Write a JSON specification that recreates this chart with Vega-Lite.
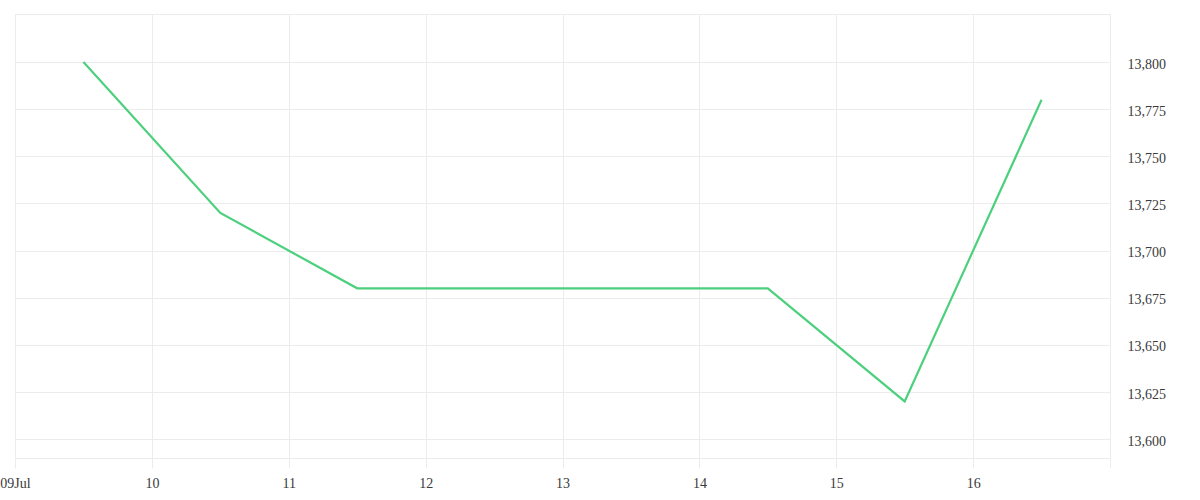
{
  "$schema": "https://vega.github.io/schema/vega-lite/v6.json",
  "autosize": {"type": "none"},
  "width": 1095,
  "height": 444,
  "padding": {"left": 15, "top": 14, "right": 90, "bottom": 42},
  "config": {
    "view": {"stroke": "#ececec", "strokeWidth": 1},
    "font": "Liberation Serif",
    "axis": {
      "labelFont": "Liberation Serif",
      "labelFontSize": 14,
      "labelColor": "#3a3a3a",
      "gridColor": "#ececec",
      "domain": false
    }
  },
  "data": {
    "values": [
      {"date": "2024-07-09T12:00:00Z", "price": 13800},
      {"date": "2024-07-10T12:00:00Z", "price": 13720},
      {"date": "2024-07-11T12:00:00Z", "price": 13680},
      {"date": "2024-07-12T12:00:00Z", "price": 13680},
      {"date": "2024-07-13T12:00:00Z", "price": 13680},
      {"date": "2024-07-14T12:00:00Z", "price": 13680},
      {"date": "2024-07-15T12:00:00Z", "price": 13620},
      {"date": "2024-07-16T12:00:00Z", "price": 13780}
    ]
  },
  "mark": {"type": "line", "color": "#4cd07d", "strokeWidth": 2.2},
  "encoding": {
    "x": {
      "field": "date",
      "type": "temporal",
      "title": null,
      "scale": {
        "type": "utc",
        "domain": [
          {"year": 2024, "month": 7, "date": 9, "utc": true},
          {"year": 2024, "month": 7, "date": 17, "utc": true}
        ]
      },
      "axis": {
        "values": [
          {"year": 2024, "month": 7, "date": 9, "utc": true},
          {"year": 2024, "month": 7, "date": 10, "utc": true},
          {"year": 2024, "month": 7, "date": 11, "utc": true},
          {"year": 2024, "month": 7, "date": 12, "utc": true},
          {"year": 2024, "month": 7, "date": 13, "utc": true},
          {"year": 2024, "month": 7, "date": 14, "utc": true},
          {"year": 2024, "month": 7, "date": 15, "utc": true},
          {"year": 2024, "month": 7, "date": 16, "utc": true},
          {"year": 2024, "month": 7, "date": 17, "utc": true}
        ],
        "labelExpr": "datum.index == 0 ? utcFormat(datum.value, '%dJul') : (datum.index == 1 ? '' : utcFormat(datum.value, '%d'))",
        "tickSize": 10,
        "tickColor": "#ececec",
        "labelPadding": 8,
        "labelAlign": "center",
        "labelFlush": false,
        "labelOverlap": false,
        "labelBound": false
      }
    },
    "y": {
      "field": "price",
      "type": "quantitative",
      "title": null,
      "scale": {"domain": [13590, 13825.5], "zero": false, "nice": false},
      "axis": {
        "orient": "right",
        "values": [13600, 13625, 13650, 13675, 13700, 13725, 13750, 13775, 13800],
        "format": ",.0f",
        "ticks": false,
        "labelPadding": 17,
        "labelBaseline": "middle",
        "labelOffset": 2
      }
    }
  }
}
